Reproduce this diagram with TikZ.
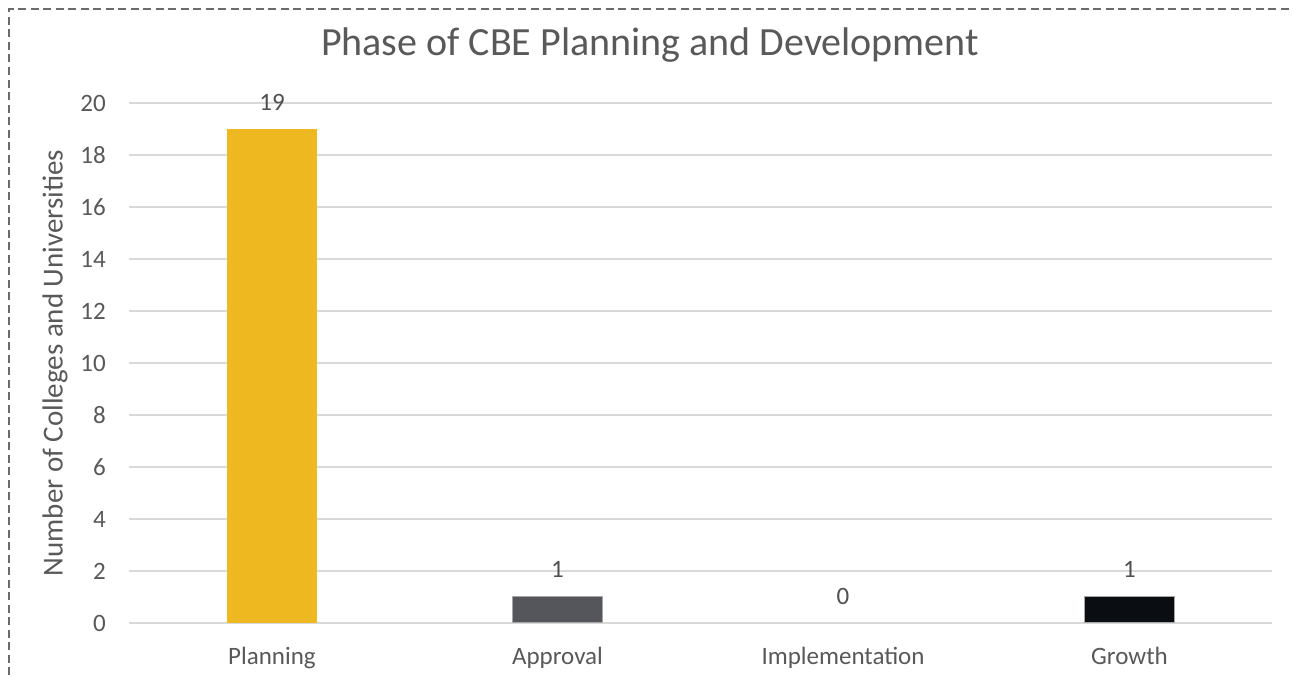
\documentclass[tikz,border=0pt]{standalone}
\usepackage{fontspec}
\setmainfont{Carlito}
\definecolor{txt}{HTML}{595959}
\definecolor{gridc}{HTML}{D9D9D9}
\definecolor{plan}{HTML}{EDB820}
\definecolor{appr}{HTML}{54565C}
\definecolor{grow}{HTML}{0A0D12}
\definecolor{bord}{HTML}{6B6B6B}
\begin{document}
\begin{tikzpicture}[x=1pt,y=-1pt,
  ticklbl/.style={anchor=east,text=txt,font=\fontsize{25}{30}\selectfont,inner sep=0pt},
  catlbl/.style={text=txt,font=\fontsize{25}{30}\selectfont,inner sep=0pt,anchor=base},
  vallbl/.style={text=txt!90!black,font=\fontsize{25}{30}\selectfont,inner sep=0pt,anchor=south},
  gridline/.style={draw=gridc,line width=1.6pt},
  barbox/.style={inner sep=0pt,minimum width=90pt,anchor=south}]
\useasboundingbox (0,0) rectangle (1293,677);
\fill[white] (0,0) rectangle (1293,677);
% border
\coordinate (bl) at (9,700);
\coordinate (tl) at (9,9);
\coordinate (tr) at (1300,9);
\draw[bord,line width=2pt,dash pattern=on 8pt off 4.5pt] (bl) -- (tl) -- (tr);
% title
\node[text=txt,font=\fontsize{40}{48}\selectfont,inner sep=0pt] (title) at (650,45) {Phase of CBE Planning and Development};
% grid and ticks
\foreach \v in {0,2,...,20}{
  \coordinate (gl\v) at (129,{623-26*\v});
  \coordinate (gr\v) at (1272,{623-26*\v});
  \draw[gridline] (gl\v) -- (gr\v);
  \node[ticklbl] (t\v) at (106,{623-26*\v}) {\v};
}
% axis title
\node[text=txt,font=\fontsize{29}{34}\selectfont,rotate=90,inner sep=0pt] (ytitle) at (55,363) {Number of Colleges and Universities};
% bars
\node[barbox,fill=plan,minimum height=494pt] (b1) at (272,623) {};
\node[barbox,fill=appr,draw=gray!70,line width=1pt,minimum height=26pt] (b2) at (557.5,623) {};
\node[barbox,fill=grow,draw=gray!70,line width=1pt,minimum height=26pt] (b4) at (1129.5,623) {};
\coordinate (b3) at (843,623);
% value labels
\node[vallbl] (v1) at ([yshift=18pt]b1.north) {19};
\node[vallbl] (v2) at ([yshift=18pt]b2.north) {1};
\node[vallbl] (v3) at ([yshift=18pt]b3) {0};
\node[vallbl] (v4) at ([yshift=18pt]b4.north) {1};
% category labels
\node[catlbl] (c1) at (272,664) {Planning};
\node[catlbl] (c2) at (557.5,664) {Approval};
\node[catlbl] (c3) at (843,664) {Implementation};
\node[catlbl] (c4) at (1129.5,664) {Growth};
\end{tikzpicture}
\end{document}
